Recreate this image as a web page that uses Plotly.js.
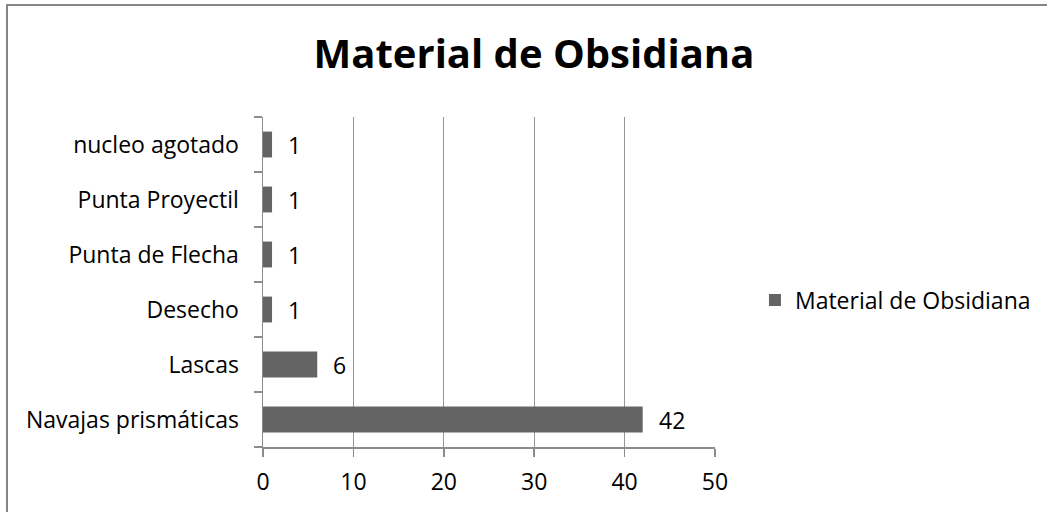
<!DOCTYPE html>
<html>
<head>
<meta charset="utf-8">
<script src="https://cdn.plot.ly/plotly-3.0.1.min.js"></script>
<style>
html,body{margin:0;padding:0;background:#fff;overflow:hidden;}
#wrap{position:absolute;left:0;top:0;width:1047px;height:512px;}
#frame{position:absolute;left:6px;top:4px;width:1100px;height:600px;border-left:2px solid #868686;border-top:2px solid #868686;pointer-events:none;}
#chart{position:absolute;left:0;top:0;width:1047px;height:512px;}
</style>
</head>
<body>
<div id="wrap">
<div id="chart"></div>
<div id="frame"></div>
</div>
<script>
const categories = ["Navajas prismáticas", "Lascas", "Desecho", "Punta de Flecha", "Punta Proyectil", "nucleo agotado"];
const values = [42, 6, 1, 1, 1, 1];
const seriesName = "Material de Obsidiana";
const xTicks = [0, 10, 20, 30, 40, 50];

const font = "Open Sans, Noto Sans, sans-serif";
const fs = 23;

const trace = {
  type: "bar",
  orientation: "h",
  x: values,
  y: categories,
  name: seriesName,
  marker: {color: "#646464", line: {width: 0}},
  showlegend: true,
  hoverinfo: "x+y"
};

const annotations = values.map((v, i) => ({
  x: v, y: categories[i], xref: "x", yref: "y",
  text: String(v), showarrow: false, xanchor: "left", xshift: 14,
  font: {family: font, size: fs, color: "#000"}
}));

const layout = {
  width: 1047, height: 512,
  margin: {l: 263, r: 331, t: 117, b: 65, pad: 0},
  paper_bgcolor: "#fff", plot_bgcolor: "#fff",
  title: {text: "<b>Material de Obsidiana</b>", font: {family: font, size: 40, color: "#000"},
          x: 0.51, xanchor: "center", y: 0.895, yanchor: "middle"},
  bargap: 0.53,
  xaxis: {
    range: [0, 50], tickvals: xTicks, ticktext: xTicks.map(String),
    showgrid: true, gridcolor: "#969696", gridwidth: 1.3,
    showline: true, linecolor: "#8c8c8c", linewidth: 1.5,
    ticks: "outside", ticklen: 8, tickcolor: "#8c8c8c", tickwidth: 1.5,
    tickfont: {family: font, size: fs, color: "#000"},
    ticklabelstandoff: 6,
    zeroline: false, fixedrange: true
  },
  yaxis: {
    type: "category", categoryorder: "array", categoryarray: categories,
    showline: true, linecolor: "#8c8c8c", linewidth: 1.5,
    ticks: "outside", ticklen: 8, tickcolor: "#8c8c8c", tickwidth: 1.5,
    tickson: "boundaries", showgrid: false,
    tickfont: {family: font, size: fs, color: "#000"},
    ticklabelstandoff: 18,
    fixedrange: true
  },
  legend: {
    x: 1.086, xanchor: "left", y: 0.445, yanchor: "middle",
    font: {family: font, size: fs, color: "#000"},
    itemwidth: 30, bgcolor: "rgba(0,0,0,0)"
  },
  annotations: annotations
};

Plotly.newPlot("chart", [trace], layout, {displayModeBar: false, staticPlot: true});
</script>
</body>
</html>
